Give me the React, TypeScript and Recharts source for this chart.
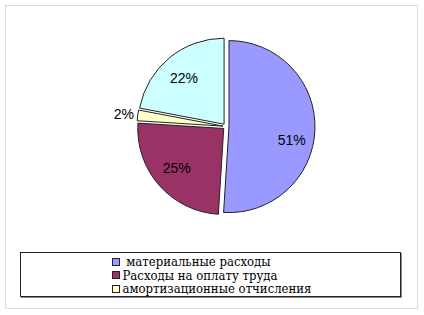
import { Cell, Legend, Pie, PieChart } from "recharts";

const categories = [
  "материальные расходы",
  "Расходы на оплату труда",
  "амортизационные отчисления",
  "прочие расходы",
];
const shares = [51, 25, 2, 22];
const colors = ["#9999FF", "#993366", "#FFFFCC", "#CCFFFF"];
// only the first three are shown in the legend
const legendCount = 3;

const data = categories.map((name, i) => ({ name, value: shares[i] }));
const total = shares.reduce((a, b) => a + b, 0);

const CX = 226;
const CY = 126.5;
const R = 86;
const EXPLODE = 3;
// excel's best-fit puts the big label a bit lower than the mid angle
const labelNudge = [11, -2, 0, 2];

const RAD = Math.PI / 180;
const SERIF = "'DejaVu Serif Condensed', 'DejaVu Serif', serif";

function midAngleOf(i: number) {
  const before = shares.slice(0, i).reduce((a, b) => a + b, 0);
  return 90 - (360 * (before + shares[i] / 2)) / total;
}

function makeLabel(visible: number) {
  return (props: any) => {
    const { cx, cy, midAngle, outerRadius, index, percent } = props;
    if (index !== visible) return null;
    const small = percent < 0.05;
    const dist = small ? outerRadius + 14 : outerRadius * 0.73;
    const x = cx + dist * Math.cos(-midAngle * RAD);
    const y = cy + dist * Math.sin(-midAngle * RAD) + labelNudge[index];
    return (
      <text
        x={x}
        y={y}
        textAnchor="middle"
        dominantBaseline="central"
        fontFamily="Arial, 'Liberation Sans', sans-serif"
        fontSize={14}
        fill="#000"
      >
        {`${Math.round(percent * 100)}%`}
      </text>
    );
  };
}

function LegendBox() {
  return (
    <div
      style={{
        boxSizing: "border-box",
        width: 381,
        height: 45,
        border: "1px solid #222",
        boxShadow: "1px 1px 0 #888",
        background: "#fff",
        display: "flex",
        justifyContent: "center",
        paddingTop: 2,
        fontFamily: SERIF,
        fontStretch: "condensed",
        fontSize: 13,
        lineHeight: "13.5px",
        color: "#000",
      }}
    >
      <div style={{ marginLeft: 2 }}>
        {categories.slice(0, legendCount).map((name, i) => (
          <div
            key={name}
            style={{ display: "flex", alignItems: "center", whiteSpace: "pre", height: 13.5 }}
          >
            <span
              style={{
                display: "inline-block",
                width: 6,
                height: 6,
                border: "1px solid #222",
                background: colors[i],
                marginRight: 3,
              }}
            />
            <span style={{ fontFamily: SERIF, fontStretch: "condensed" }}>
              {i === 0 ? ` ${name}` : name}
            </span>
          </div>
        ))}
      </div>
    </div>
  );
}

export default function App() {
  return (
    <div
      style={{
        position: "absolute",
        left: 0,
        top: 0,
        width: 424,
        height: 315,
        background: "#fff",
      }}
    >
      <div
        style={{
          position: "absolute",
          left: 5,
          top: 5,
          width: 411,
          height: 302,
          border: "1px solid #dcdcdc",
        }}
      />
      <PieChart width={424} height={315} margin={{ top: 0, right: 0, bottom: 0, left: 0 }}>
        {shares.map((_, k) => {
          const mid = midAngleOf(k);
          const cx = CX + EXPLODE * Math.cos(mid * RAD);
          const cy = CY - EXPLODE * Math.sin(mid * RAD);
          return (
            <Pie
              key={k}
              data={data}
              dataKey="value"
              nameKey="name"
              cx={cx}
              cy={cy}
              outerRadius={R}
              startAngle={90}
              endAngle={-270}
              label={makeLabel(k)}
              labelLine={false}
              isAnimationActive={false}
            >
              {data.map((d, i) => (
                <Cell
                  key={d.name}
                  fill={i === k ? colors[i] : "none"}
                  stroke={i === k ? "#222" : "none"}
                  strokeWidth={1}
                />
              ))}
            </Pie>
          );
        })}
        <Legend
          content={() => <LegendBox />}
          wrapperStyle={{ left: 20, top: 252, width: 381, bottom: "auto" }}
        />
      </PieChart>
    </div>
  );
}
